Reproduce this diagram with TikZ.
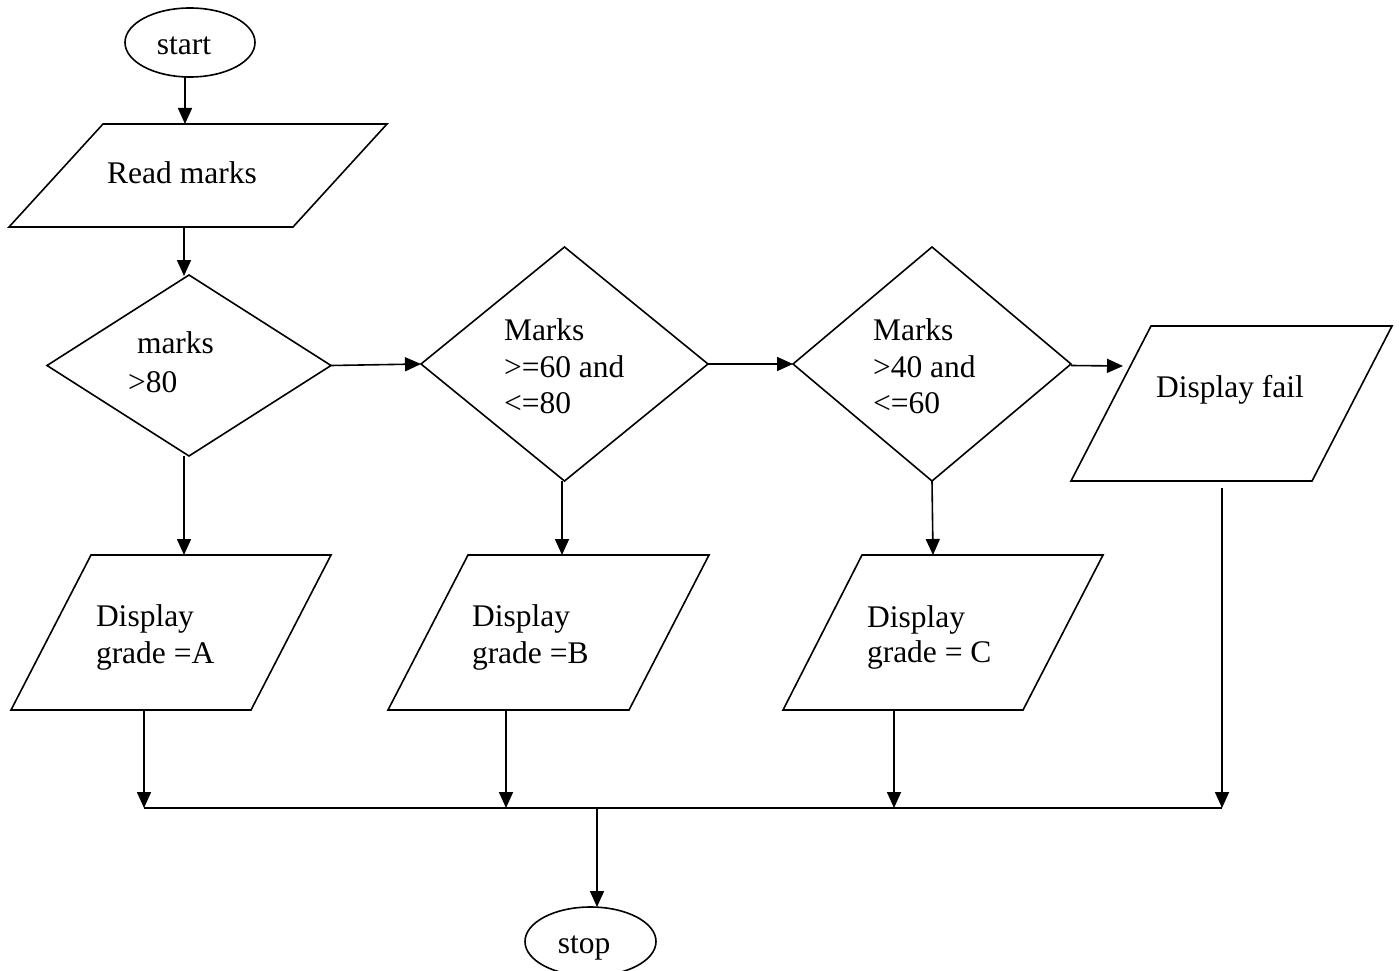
\documentclass[tikz,border=0pt]{standalone}
\usepackage{fontspec}
\setmainfont{Liberation Serif}
\usetikzlibrary{shapes.geometric,arrows.meta}
\begin{document}
\begin{tikzpicture}[x=1pt,y=-1pt,
  line width=1.6pt,
  every node/.style={inner sep=0pt, outer sep=0pt},
  term/.style={ellipse, draw, minimum width=130pt, minimum height=69pt},
  dec/.style={diamond, draw},
  txt/.style={anchor=base west, font=\fontsize{31.5}{36.5}\selectfont},
  arr/.style={-{Triangle[length=16pt,width=14pt]}}
]
\useasboundingbox (0,0) rectangle (1399,971);

% start
\node[term] (start) at (190,42.5) {};
\node[txt, anchor=base] (start-t) at (184,55) {start};

% read marks
\draw (103,124) -- (387,124) -- (293,227) -- (9,227) -- cycle;
\coordinate (rm-top) at (185,124);
\coordinate (rm-bot) at (184,227);
\node[txt, anchor=base] (rm-t) at (182,183) {Read marks};
\draw[arr] ([xshift=-5pt]start.south) -- (rm-top);

% decisions
\node[dec, minimum width=284pt, minimum height=181pt] (d1) at (189,365.5) {};
\node[dec, minimum width=287pt, minimum height=234pt] (d2) at (564.5,364) {};
\node[dec, minimum width=278pt, minimum height=234pt] (d3) at (932,364) {};
\coordinate (d1-in) at (184,276);
\draw[arr] (rm-bot) -- (d1-in);

\node[txt] (d1-t1) at (137,353) {marks};
\node[txt] (d1-t2) at (128,392) {>80};
\node[txt] (d2-t1) at (504,340) {Marks};
\node[txt] (d2-t2) at (504,377) {>=60 and};
\node[txt] (d2-t3) at (504,413) {<=80};
\node[txt] (d3-t1) at (873,340) {Marks};
\node[txt] (d3-t2) at (873,377) {>40 and};
\node[txt] (d3-t3) at (873,413) {<=60};

\draw[arr] (d1.east) -- (d2.west);
\draw[arr] (d2.east) -- (d3.west);

% fail
\draw (1151,326) -- (1392,326) -- (1312,481) -- (1071,481) -- cycle;
\node[txt] (fail-t) at (1156,397) {Display fail};
\coordinate (fail-in) at (1123,366);
\draw[arr] ([yshift=-1.5pt]d3.east) -- (fail-in);

% outputs
\coordinate (pa-top) at (184,555);
\coordinate (pb-top) at (562,555);
\coordinate (pc-top) at (933,555);
\draw[arr] ([xshift=-5pt]d1.south) -- (pa-top);
\draw[arr] ([xshift=-2.5pt]d2.south) -- (pb-top);
\draw[arr] (d3.south) -- (pc-top);

\draw (91,555) -- (331,555) -- (251,710) -- (11,710) -- cycle;
\draw (468,555) -- (709,555) -- (629,710) -- (388,710) -- cycle;
\draw (862,555) -- (1103,555) -- (1023,710) -- (783,710) -- cycle;

\node[txt] (pa-t1) at (96,626) {Display};
\node[txt] (pa-t2) at (96,663) {grade =A};
\node[txt] (pb-t1) at (472,626) {Display};
\node[txt] (pb-t2) at (472,663) {grade =B};
\node[txt] (pc-t1) at (867,627) {Display};
\node[txt] (pc-t2) at (867,662) {grade = C};

% bus
\coordinate (pa-bot) at (144,710);
\coordinate (pb-bot) at (506,710);
\coordinate (pc-bot) at (894,710);
\coordinate (fail-bot) at (1222,488);
\coordinate (ba) at (144,808);
\coordinate (bb) at (506,808);
\coordinate (bc) at (894,808);
\coordinate (bf) at (1222,808);
\coordinate (bs) at (597,808);
\draw[arr] (pa-bot) -- (ba);
\draw[arr] (pb-bot) -- (bb);
\draw[arr] (pc-bot) -- (bc);
\draw[arr] (fail-bot) -- (bf);
\draw (ba) -- (bf);

% stop
\node[term, minimum width=131pt] (stop) at (590.5,941.5) {};
\node[txt, anchor=base] (stop-t) at (584,953) {stop};
\coordinate (stop-in) at (597,907);
\draw[arr] (bs) -- (stop-in);
\end{tikzpicture}
\end{document}
